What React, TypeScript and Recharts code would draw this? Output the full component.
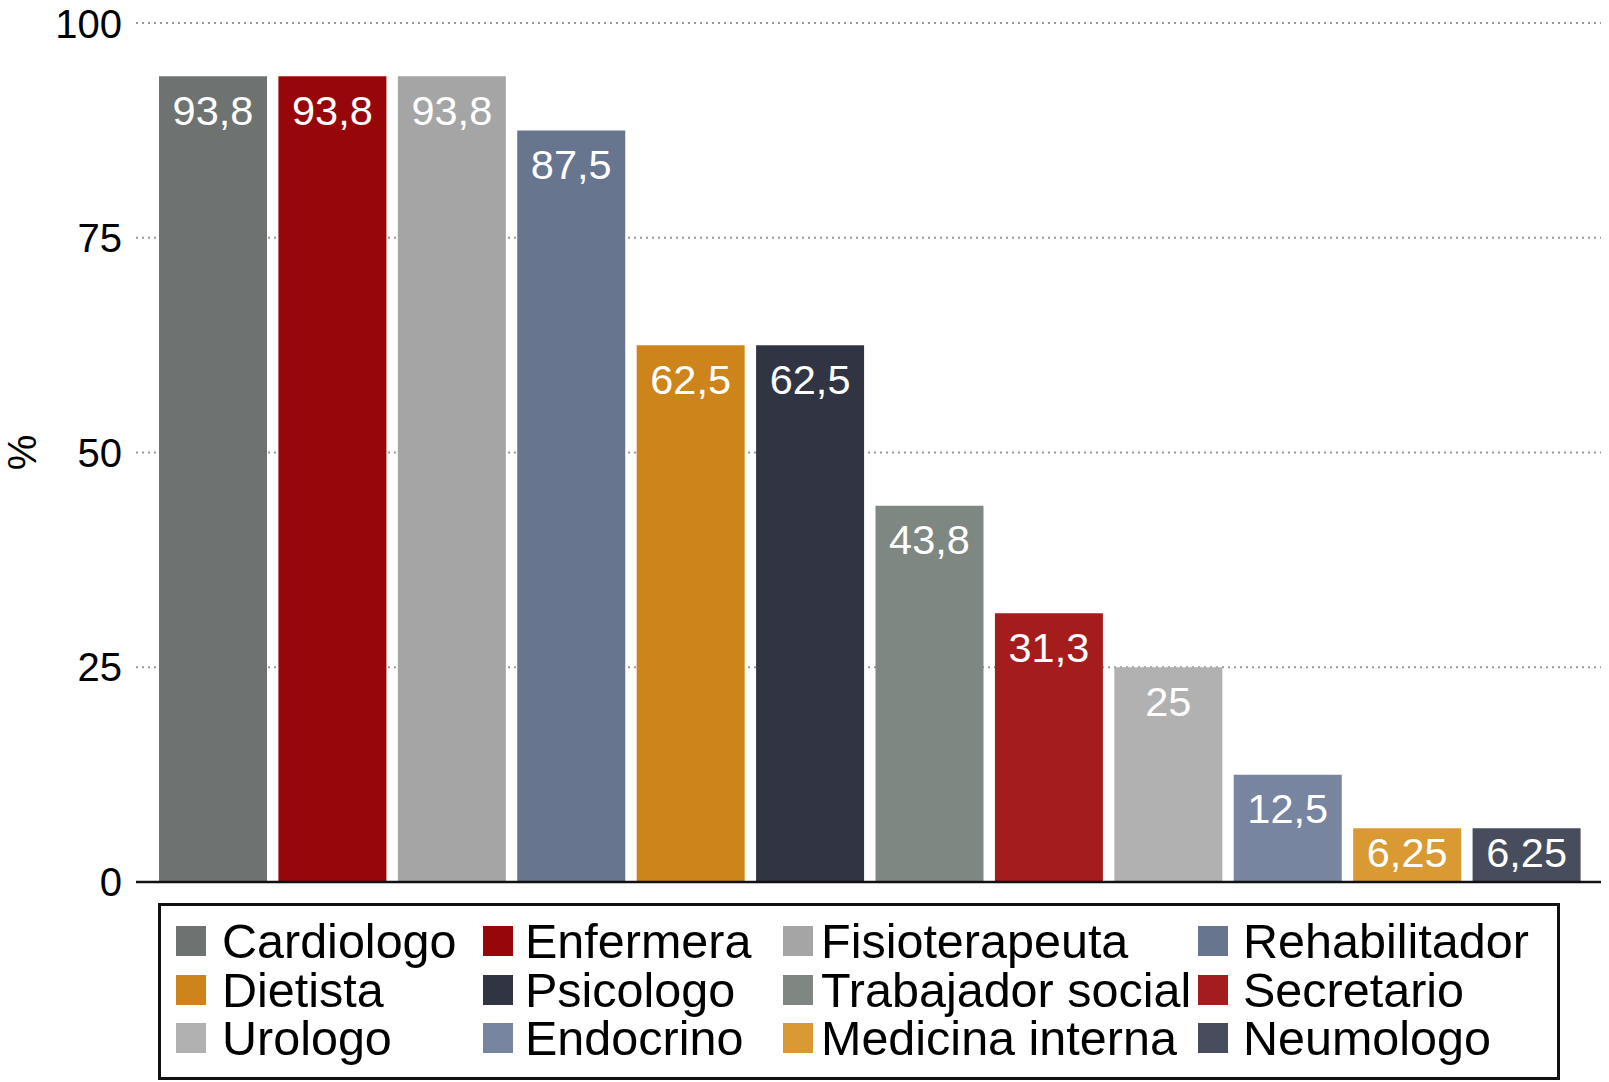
import React from 'react';
import { BarChart, Bar, XAxis, YAxis, CartesianGrid, Legend, Cell, LabelList } from 'recharts';

const categories = [
  'Cardiologo', 'Enfermera', 'Fisioterapeuta', 'Rehabilitador',
  'Dietista', 'Psicologo', 'Trabajador social', 'Secretario',
  'Urologo', 'Endocrino', 'Medicina interna', 'Neumologo',
];
const percentages = [93.8, 93.8, 93.8, 87.5, 62.5, 62.5, 43.8, 31.3, 25, 12.5, 6.25, 6.25];
const colors = [
  '#6e7371', '#97070a', '#a5a5a5', '#67758f',
  '#cd851b', '#313543', '#7f8782', '#a51c1d',
  '#b1b1b1', '#7785a1', '#d99a34', '#474d5d',
];
const yTicks = [0, 25, 50, 75, 100];

const data = categories.map((name, i) => ({ name, value: percentages[i] }));

const FONT = '"Liberation Sans", Arial, Helvetica, sans-serif';

const fmt = (v: number) => String(v).replace('.', ',');

const ValueLabel = (props: any) => {
  const { x, y, width, height, value } = props;
  // near the top of the bar, or centred when the bar is too short
  const cy = Math.min(y + 34, y + height / 2 - 3);
  return (
    <text x={x + width / 2} y={cy} dy="0.35em" textAnchor="middle" fill="#fff" fontSize={41.5} fontFamily={FONT}>
      {fmt(value)}
    </text>
  );
};

const PercentLabel = (props: any) => {
  const { viewBox } = props;
  const cx = viewBox.x + 22;
  const cy = viewBox.y + viewBox.height / 2;
  return (
    <text x={cx} y={cy} dy="0.35em" textAnchor="middle" fontSize={40} fill="#000" fontFamily={FONT}
      transform={`rotate(-90, ${cx}, ${cy})`}>
      %
    </text>
  );
};

// legend columns: swatch left positions inside the box, and gap to the text
const colX = [18, 325, 625, 1040];
const colGap = [16, 12, 8, 15];
const ROW_H = 48.7;

const LegendBox = () => (
  <div style={{ position: 'relative', width: '100%', height: '100%', boxSizing: 'border-box', border: '3px solid #111' }}>
    {categories.map((name, i) => {
      const col = i % 4;
      const row = Math.floor(i / 4);
      const center = 38 - 3 + row * ROW_H;
      return (
        <div key={name} style={{ position: 'absolute', left: colX[col] - 3, top: center - 24, height: 48, display: 'flex', alignItems: 'center', whiteSpace: 'nowrap' }}>
          <span style={{ display: 'inline-block', width: 30, height: 30, background: colors[i], marginRight: colGap[col] }} />
          <span style={{ fontSize: 48.5, fontFamily: FONT, color: '#000', lineHeight: '48px' }}>{name}</span>
        </div>
      );
    })}
  </div>
);

const App: React.FC = () => {
  return (
    <div style={{ position: 'absolute', left: 0, top: 0, width: 1609, height: 1082, background: '#fff', fontFamily: FONT }}>
      <BarChart width={1609} height={1082} data={data} margin={{ top: 23, right: 8, left: 0, bottom: 199 }}>
        <CartesianGrid vertical={false} stroke="#999999" strokeWidth={2.2} strokeDasharray="2 4" />
        <XAxis
          dataKey="name"
          height={1}
          tick={false}
          tickLine={false}
          axisLine={{ stroke: '#111', strokeWidth: 2.5 }}
          padding={{ left: 17, right: 15 }}
        />
        <YAxis
          width={136}
          domain={[0, 100]}
          ticks={yTicks}
          axisLine={false}
          tickLine={false}
          tickSize={0}
          tickMargin={14}
          tick={{ fontSize: 40, fill: '#000', fontFamily: FONT }}
          label={<PercentLabel />}
        />
        <Legend
          layout="horizontal"
          verticalAlign="middle"
          align="center"
          wrapperStyle={{ left: 158, top: 903, width: 1402, height: 177 }}
          content={() => <LegendBox />}
        />
        <Bar dataKey="value" barSize={108} isAnimationActive={false}>
          {data.map((d, i) => (
            <Cell key={d.name} fill={colors[i]} />
          ))}
          <LabelList dataKey="value" content={<ValueLabel />} />
        </Bar>
      </BarChart>
    </div>
  );
};

export default App;
